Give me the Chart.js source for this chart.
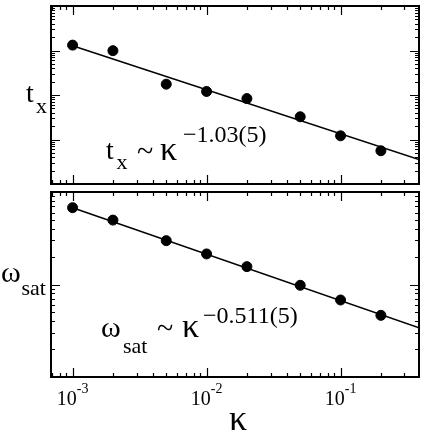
<!DOCTYPE html>
<html>
<head>
<meta charset="utf-8">
<script src="https://cdn.jsdelivr.net/npm/chart.js@4"></script>
<style>
  html, body { margin: 0; padding: 0; background: #fff; }
  #wrap { position: relative; width: 425px; height: 436px; }
  canvas { position: absolute; left: 0; }
  #top { top: 0; }
  #bot { top: 186px; }
</style>
</head>
<body>
<div id="wrap">
  <canvas id="top" width="425" height="190"></canvas>
  <canvas id="bot" width="425" height="250"></canvas>
</div>
<script>
// kappa values (shared x axis)
const kappa = [0.001, 0.002, 0.005, 0.01, 0.02, 0.05, 0.1, 0.2];

// top panel: t_x
const tx = [1321, 991, 175, 120, 83, 32.4, 12.1, 5.58];
const txFitK = [0.001, 0.385];
const txFit = [1276, 3.54];

// bottom panel: omega_sat
const wsat = [6.77, 4.97, 2.98, 2.14, 1.56, 0.98, 0.68, 0.464];
const wsatFitK = [0.001, 0.385];
const wsatFit = [6.77, 0.34];

// axis ranges and tick labels
const xRange = [0.00069, 0.385];
const txRange = [1, 10000];
const wsatRange = [0.1, 10];
const xTickValues = [0.001, 0.01, 0.1];
const xTickExps = ['-3', '-2', '-1'];

const FONT = '"Liberation Serif", "Times New Roman", serif';

// log tick list (1..9 per decade), major at powers of ten
function logTicks(min, max) {
  const out = [];
  for (let d = Math.floor(Math.log10(min)); d <= Math.ceil(Math.log10(max)); d++) {
    for (let m = 1; m <= 9; m++) {
      const v = m * Math.pow(10, d);
      if (v >= min * 0.9999 && v <= max * 1.0001) out.push({ v, major: m === 1 });
    }
  }
  return out;
}

function txt(ctx, s, x, y, size, align) {
  ctx.font = size + 'px ' + FONT;
  ctx.textAlign = align || 'left';
  ctx.textBaseline = 'alphabetic';
  ctx.fillStyle = '#000';
  ctx.fillText(s, x, y);
}

// frame with inward ticks on all four sides
const framePlugin = {
  id: 'frame',
  afterDatasetsDraw(chart) {
    const { ctx, chartArea: a, scales } = chart;
    const xs = scales.x, ys = scales.y;
    ctx.save();
    ctx.strokeStyle = '#000';
    ctx.lineWidth = 1.2;
    ctx.beginPath();
    logTicks(xs.min, xs.max).forEach(t => {
      const px = Math.round(xs.getPixelForValue(t.v)) + 0.5;
      const len = t.major ? 9 : 4;
      ctx.moveTo(px, a.bottom); ctx.lineTo(px, a.bottom - len);
      ctx.moveTo(px, a.top); ctx.lineTo(px, a.top + len);
    });
    logTicks(ys.min, ys.max).forEach(t => {
      const py = Math.round(ys.getPixelForValue(t.v)) + 0.5;
      const len = t.major ? 9 : 4;
      ctx.moveTo(a.left, py); ctx.lineTo(a.left + len, py);
      ctx.moveTo(a.right, py); ctx.lineTo(a.right - len, py);
    });
    ctx.stroke();
    ctx.lineWidth = 2;
    ctx.strokeRect(a.left, a.top, a.right - a.left, a.bottom - a.top);
    ctx.restore();
  }
};

const topLabels = {
  id: 'topLabels',
  afterDraw(chart) {
    const ctx = chart.ctx;
    // y title
    txt(ctx, 't', 26, 102, 28);
    txt(ctx, 'x', 36, 113, 22);
    // fit annotation
    txt(ctx, 't', 106, 159, 28);
    txt(ctx, 'x', 116.5, 169, 22);
    txt(ctx, '~', 137, 161, 30);
    txt(ctx, 'κ', 160, 160, 34);
    txt(ctx, '\u22121.03(5)', 183, 142, 24);
  }
};

const botLabels = {
  id: 'botLabels',
  afterDraw(chart) {
    const ctx = chart.ctx;
    const xs = chart.scales.x;
    // y title
    txt(ctx, 'ω', 1, 96, 30);
    txt(ctx, 'sat', 21.5, 109, 22);
    // fit annotation
    txt(ctx, 'ω', 101, 151, 30);
    txt(ctx, 'sat', 123, 167, 22);
    txt(ctx, '~', 157, 152, 30);
    txt(ctx, 'κ', 182, 151, 34);
    txt(ctx, '\u22120.511(5)', 203, 137, 24);
    // x tick labels 10^n
    xTickValues.forEach((v, i) => {
      const px = xs.getPixelForValue(v);
      ctx.font = '20px ' + FONT;
      const wBase = ctx.measureText('10').width;
      ctx.font = '14px ' + FONT;
      const wExp = ctx.measureText(xTickExps[i]).width;
      const start = px - (wBase + wExp) / 2;
      txt(ctx, '10', start, 219, 20);
      txt(ctx, xTickExps[i], start + wBase, 207, 14);
    });
    // x title
    const a = chart.chartArea;
    txt(ctx, 'κ', (a.left + a.right) / 2 + 3, 244, 36, 'center');
  }
};

function makeChart(id, yRange, ys, fitK, fitY, padding, labels) {
  return new Chart(document.getElementById(id), {
    type: 'scatter',
    data: {
      datasets: [
        {
          data: kappa.map((k, i) => ({ x: k, y: ys[i] })),
          pointRadius: 5,
          pointHoverRadius: 5,
          backgroundColor: '#000',
          borderColor: '#000'
        },
        {
          data: fitK.map((k, i) => ({ x: k, y: fitY[i] })),
          showLine: true,
          pointRadius: 0,
          borderColor: '#000',
          borderWidth: 1.5
        }
      ]
    },
    options: {
      responsive: false,
      animation: false,
      devicePixelRatio: 1,
      layout: { padding },
      plugins: { legend: { display: false }, tooltip: { enabled: false } },
      scales: {
        x: { type: 'logarithmic', min: xRange[0], max: xRange[1], display: false },
        y: { type: 'logarithmic', min: yRange[0], max: yRange[1], display: false }
      }
    },
    plugins: [framePlugin, labels]
  });
}

makeChart('top', txRange, tx, txFitK, txFit, { left: 51, right: 6, top: 6, bottom: 2 }, topLabels);
makeChart('bot', wsatRange, wsat, wsatFitK, wsatFit, { left: 51, right: 6, top: 2, bottom: 59 }, botLabels);
</script>
</body>
</html>
